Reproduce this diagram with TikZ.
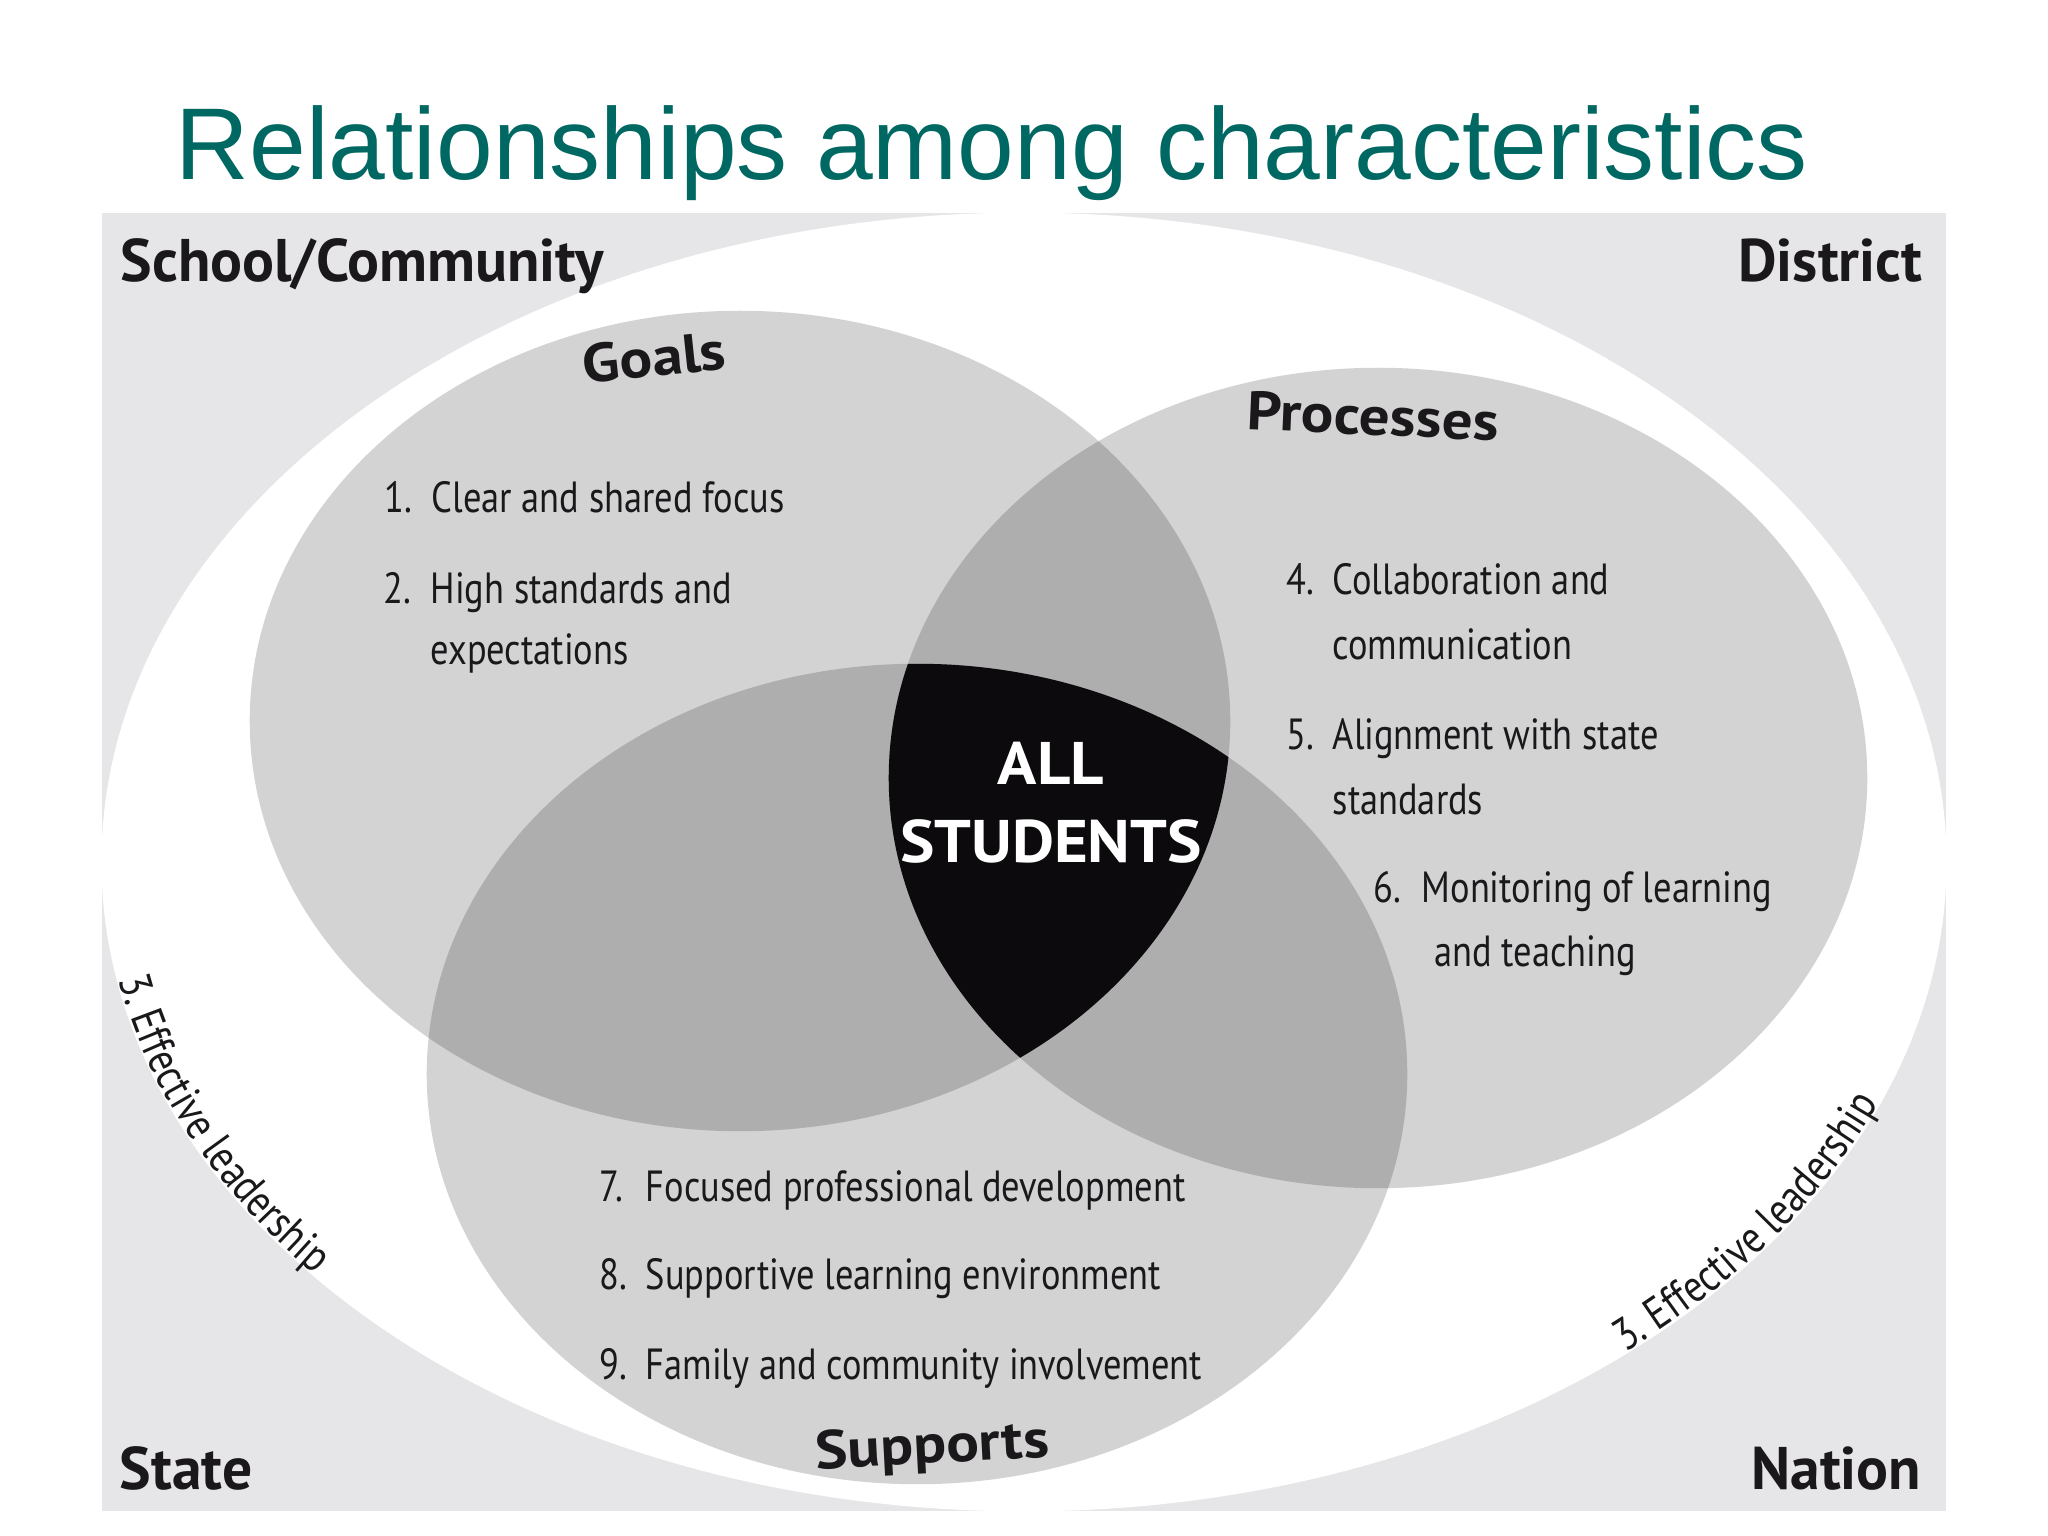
\documentclass[tikz,border=0pt]{standalone}
\usepackage{fontspec}
\usepackage{tikz}
\usepackage{xcolor}
\usetikzlibrary{decorations.text}

\newfontfamily\titlefont{Liberation Sans}
\newfontfamily\headfont[FakeStretch=0.99]{PT Sans}
\newfontfamily\setfont[FakeStretch=1.12]{PT Sans}
\newfontfamily\corefont[FakeStretch=1.08]{PT Sans}
\newfontfamily\itemfont[FakeStretch=0.835]{PT Sans}

\definecolor{titleteal}{RGB}{0,104,98}
\definecolor{panelgray}{RGB}{230,229,231}
\definecolor{inkblack}{RGB}{26,24,27}
\definecolor{corefill}{RGB}{12,10,13}

\begin{document}
\begin{tikzpicture}[
  x=0.01cm, y=0.01cm,
  venn/.style={fill=black,fill opacity=0.173},
  corner/.style={font=\headfont\bfseries\fontsize{17.1}{20}\selectfont,text=inkblack,inner sep=0},
  setlabel/.style={font=\setfont\bfseries\fontsize{15.5}{18}\selectfont,text=inkblack,inner sep=0,anchor=base},
  itm/.style={font=\itemfont\fontsize{12.4}{15}\selectfont,text=inkblack,inner sep=0,anchor=base west},
  core/.style={font=\corefont\bfseries\fontsize{17.1}{20}\selectfont,text=white,inner sep=0,anchor=base},
  lead/.style={decorate,decoration={text along path,text align=center,
    text={|\itemfont\fontsize{12.9}{15}\selectfont\color{inkblack}|3. Effective leadership}}}
]
\fill[white] (0,0) rectangle (2048,1536);
\fill[panelgray] (102,25) rectangle (1946,1323);

% rings and sets
\coordinate (outer) at (1024,674);
\coordinate (goals) at (740,815);
\coordinate (procs) at (1378,758);
\coordinate (supps) at (917,462);
\fill[white] (outer) ellipse (9.22cm and 6.49cm);
\fill[venn] (goals) ellipse (4.9cm and 4.1cm);
\fill[venn] (procs) ellipse (4.89cm and 4.1cm);
\fill[venn] (supps) ellipse (4.9cm and 4.1cm);
\begin{scope}
  \clip (goals) ellipse (4.9cm and 4.1cm);
  \clip (procs) ellipse (4.89cm and 4.1cm);
  \fill[corefill] (supps) ellipse (4.9cm and 4.1cm);
\end{scope}

\node[font=\titlefont\fontsize{29}{34}\selectfont,text=titleteal,anchor=base west,inner sep=0]
  (title) at (175,1356) {Relationships among characteristics};

\node[corner,anchor=base west] (school) at (120,1254) {School/Community};
\node[corner,anchor=base east] (district) at (1923,1254) {District};
\node[corner,anchor=base west] (state) at (119,46) {State};
\node[corner,anchor=base east] (nation) at (1922,46) {Nation};

\node[setlabel,rotate=6] (goalslbl) at (656,1160) {Goals};
\node[setlabel,rotate=-2.5] (procslbl) at (1372,1101) {Processes};
\node[setlabel,rotate=3] (suppslbl) at (933,73) {Supports};

\node[core] (all) at (1051,751) {ALL};
\node[core] (students) at (1051,673) {STUDENTS};

% goals
\node[itm] (g1) at (384,1023) {\makebox[0.47cm][l]{1.}Clear and shared focus};
\node[itm] (g2) at (383,932) {\makebox[0.47cm][l]{2.}High standards and};
\node[itm] (g2b) at (430,871) {expectations};
% processes
\node[itm] (p4) at (1286,941) {\makebox[0.46cm][l]{4.}Collaboration and};
\node[itm] (p4b) at (1332,876) {communication};
\node[itm] (p5) at (1286,786) {\makebox[0.46cm][l]{5.}Alignment with state};
\node[itm] (p5b) at (1332,721) {standards};
\node[itm] (p6) at (1373,633) {\makebox[0.48cm][l]{6.}Monitoring of learning};
\node[itm] (p6b) at (1434,569) {and teaching};
% supports
\node[itm] (s7) at (599,334) {\makebox[0.46cm][l]{7.}Focused professional development};
\node[itm] (s8) at (599,246) {\makebox[0.46cm][l]{8.}Supportive learning environment};
\node[itm] (s9) at (599,156) {\makebox[0.46cm][l]{9.}Family and community involvement};

\path[lead] (outer) ++(179:9.2cm and 6.47cm) arc (179:229:9.2cm and 6.47cm);
\path[lead] (outer) ++(302:9.2cm and 6.47cm) arc (302:349:9.2cm and 6.47cm);
\end{tikzpicture}
\end{document}
